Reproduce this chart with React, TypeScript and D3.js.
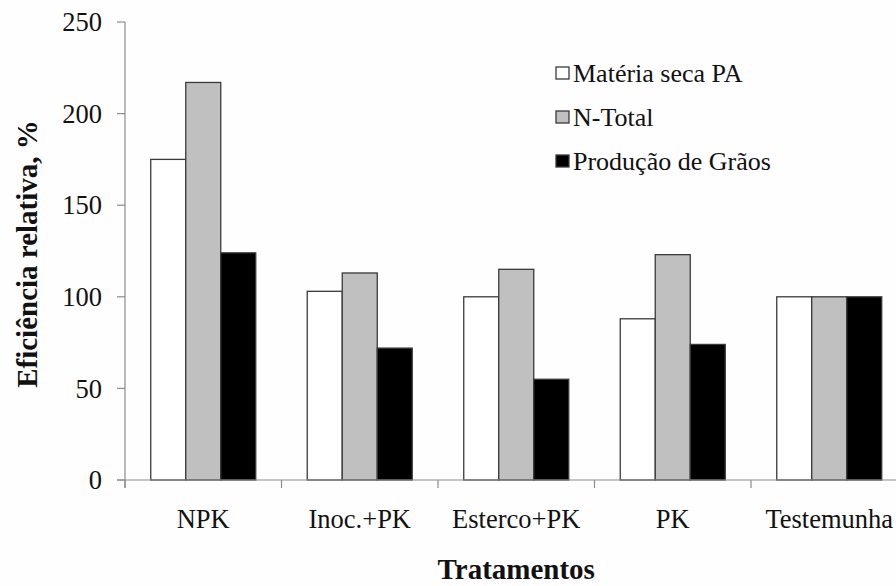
import React from "react";
import * as d3 from "d3";

const categories = ["NPK", "Inoc.+PK", "Esterco+PK", "PK", "Testemunha"];
const seriesNames = ["Matéria seca PA", "N-Total", "Produção de Grãos"];
const materiaSeca = [175, 103, 100, 88, 100];
const nTotal = [217, 113, 115, 123, 100];
const producaoGraos = [124, 72, 55, 74, 100];
const yTicks = [0, 50, 100, 150, 200, 250];
const seriesFill = ["#ffffff", "#c0c0c0", "#000000"];

const W = 896;
const H = 586;
const left = 125;
const plotRight = 907.5;
const top = 22;
const bottom = 480;
const serif = "'Liberation Serif', 'Times New Roman', 'DejaVu Serif', serif";
const textStyle: React.CSSProperties = { fontFamily: serif };

export default function App() {
  const series = [materiaSeca, nTotal, producaoGraos];
  const x = d3
    .scaleBand<string>()
    .domain(categories)
    .range([left, plotRight])
    .paddingInner(0.329)
    .paddingOuter(0.1645);
  const xs = d3
    .scaleBand<number>()
    .domain(d3.range(series.length))
    .range([0, x.bandwidth()]);
  const y = d3.scaleLinear().domain([0, 250]).range([bottom, top]);
  const step = x.step();
  const boundaries = d3.range(categories.length + 1).map((i) => left + i * step);

  return (
    <svg
      width={W}
      height={H}
      style={{ position: "absolute", left: 0, top: 0, background: "#fefefe" }}
    >
      {/* bars */}
      {categories.map((c, ci) => (
        <g key={c} transform={`translate(${x(c)},0)`}>
          {series.map((vals, si) => (
            <rect
              key={si}
              x={xs(si)}
              y={y(vals[ci])}
              width={xs.bandwidth()}
              height={bottom - y(vals[ci])}
              fill={seriesFill[si]}
              stroke="#3a3a3a"
              strokeWidth={1.3}
            />
          ))}
        </g>
      ))}

      {/* y axis */}
      <line x1={left} x2={left} y1={top} y2={bottom + 8} stroke="#8c8c8c" strokeWidth={1.2} />
      {yTicks.map((t) => (
        <g key={t}>
          <line x1={left - 8} x2={left} y1={y(t)} y2={y(t)} stroke="#8c8c8c" strokeWidth={1.2} />
          <text x={102} y={y(t)} dy="0.35em" textAnchor="end" fontSize={26.5} fill="#111" style={textStyle}>
            {t}
          </text>
        </g>
      ))}

      {/* x axis */}
      <line x1={left - 8} x2={W} y1={bottom} y2={bottom} stroke="#8c8c8c" strokeWidth={1.2} />
      {boundaries.map((bx, i) => (
        <line key={i} x1={bx} x2={bx} y1={bottom} y2={bottom + 8} stroke="#8c8c8c" strokeWidth={1.2} />
      ))}
      {categories.map((c) => (
        <text
          key={c}
          x={(x(c) as number) + x.bandwidth() / 2}
          y={528}
          textAnchor="middle"
          fontSize={26.5}
          fill="#111"
          style={textStyle}
        >
          {c}
        </text>
      ))}

      {/* axis titles */}
      <text
        x={(left + plotRight) / 2}
        y={579}
        textAnchor="middle"
        fontSize={29}
        fontWeight="bold"
        fill="#111"
        style={textStyle}
      >
        Tratamentos
      </text>
      <text
        transform={`translate(37,${(top + bottom) / 2 + 3}) rotate(-90)`}
        textAnchor="middle"
        fontSize={29}
        fontWeight="bold"
        fill="#111"
        style={textStyle}
      >
        Eficiência relativa, %
      </text>

      {/* legend */}
      {seriesNames.map((name, i) => (
        <g key={name} transform={`translate(556,${82 + i * 44})`}>
          <rect x={0} y={-15} width={13} height={12} fill={seriesFill[i]} stroke="#3a3a3a" strokeWidth={1.3} />
          <text x={17} y={0} fontSize={26} fill="#111" style={textStyle}>
            {name}
          </text>
        </g>
      ))}
    </svg>
  );
}
